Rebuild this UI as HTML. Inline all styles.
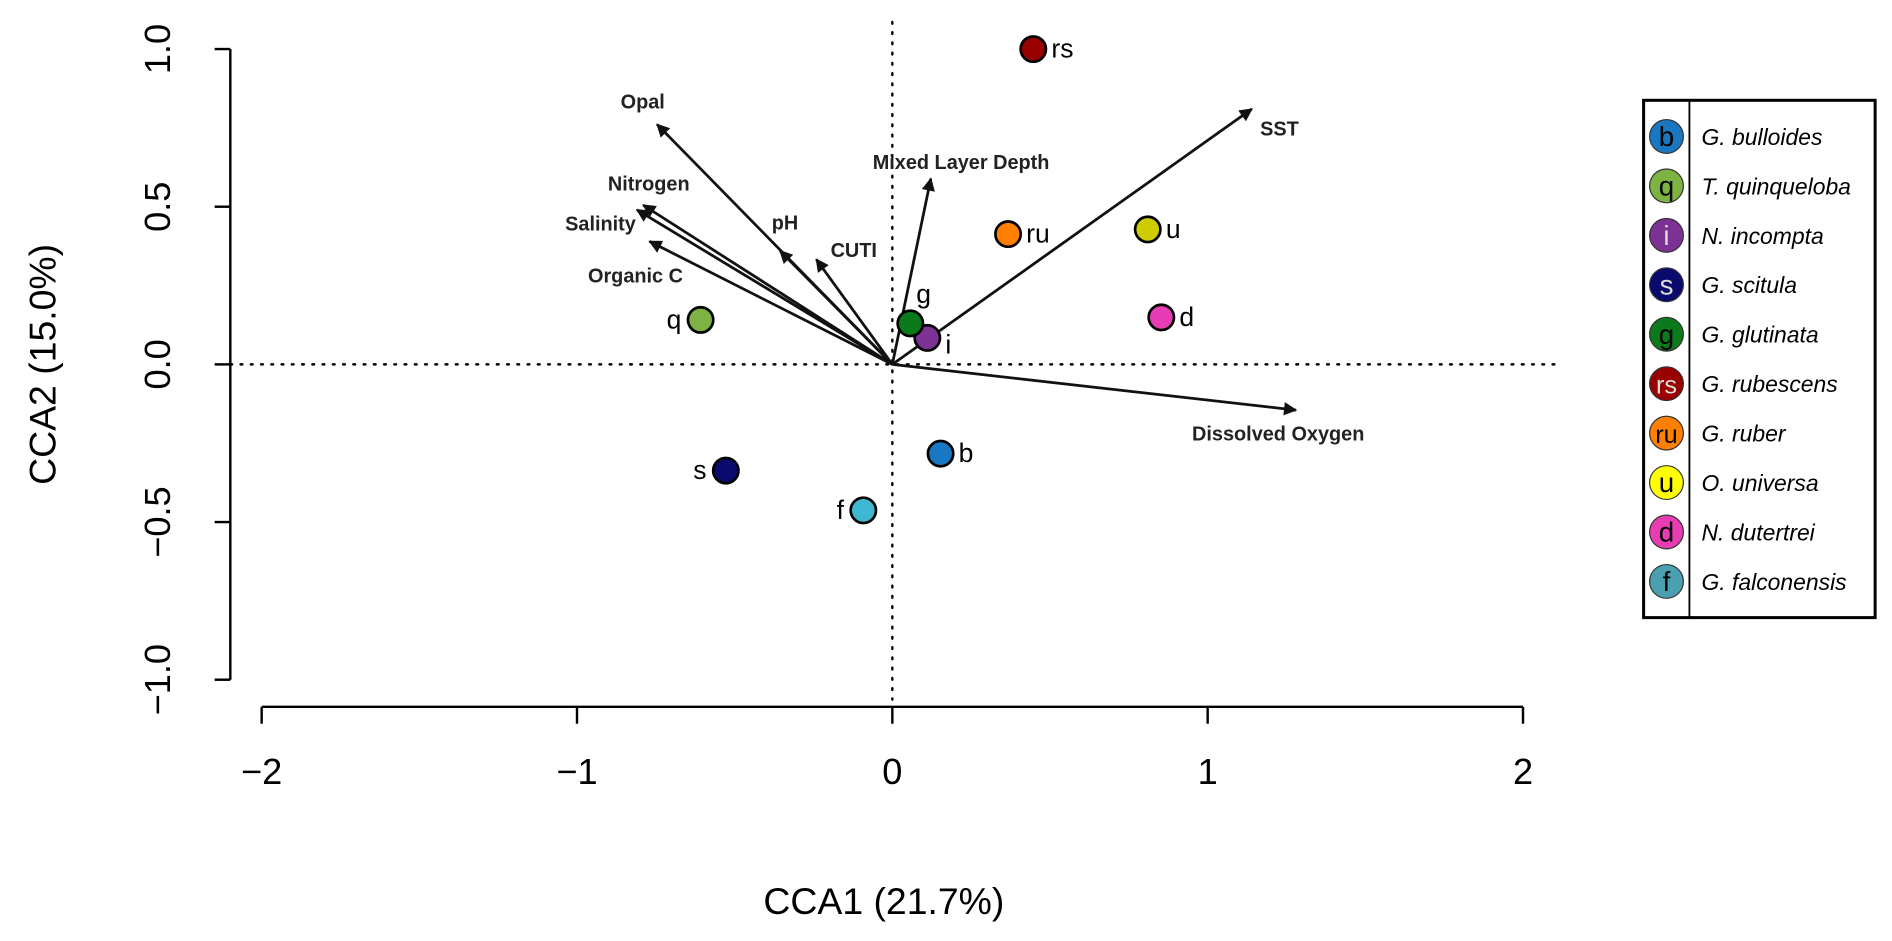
<!DOCTYPE html>
<html><head><meta charset="utf-8"><style>
html,body{margin:0;padding:0;background:#fff;width:1892px;height:941px;overflow:hidden}
svg{display:block;font-family:"Liberation Sans",Arial,sans-serif}
</style></head><body>
<svg id="chart" width="1892" height="941" viewBox="0 0 1569 780" xmlns="http://www.w3.org/2000/svg">
<defs><marker id="ah" viewBox="0 0 10 10" refX="9" refY="5" markerWidth="13" markerHeight="11" markerUnits="userSpaceOnUse" orient="auto"><path d="M0,0 L10,5 L0,10 z" fill="#111"/></marker></defs>
<g id="plot"></g>
</svg>
<script>
const xTicks=[-2,-1,0,1,2];
const yTicks=[-1.0,-0.5,0.0,0.5,1.0];
const yTickLabels=["\u22121.0","\u22120.5","0.0","0.5","1.0"];
const xTickLabels=["\u22122","\u22121","0","1","2"];
const speciesCodes=["b","q","i","s","g","rs","ru","u","d","f"];
const speciesNames=["G. bulloides","T. quinqueloba","N. incompta","G. scitula","G. glutinata","G. rubescens","G. ruber","O. universa","N. dutertrei","G. falconensis"];
const speciesX=[0.153,-0.608,0.111,-0.528,0.057,0.447,0.367,0.81,0.853,-0.092];
const speciesY=[-0.283,0.141,0.084,-0.337,0.13,1.0,0.413,0.428,0.149,-0.463];
const plotColors=["#1a78c2","#7cb342","#7b3294","#0a0a6e","#0b7a1a","#990000","#ff8000","#cccc00","#e83cb4","#3fb7d0"];
const legendColors=["#1a78c2","#7cb342","#7b3294","#0a0a6e","#0b7a1a","#990000","#ff8000","#ffff00","#e83cb4","#4aa0b0"];
const envNames=["Opal","Nitrogen","Salinity","Organic C","pH","CUTI","Mixed Layer Depth","SST","Dissolved Oxygen"];
const envX=[-0.746,-0.79,-0.81,-0.77,-0.356,-0.241,0.122,1.14,1.28];
const envY=[0.761,0.505,0.49,0.39,0.36,0.333,0.589,0.81,-0.145];
const envLabelX=[533,538,498,527,651,708,797,1061,1060];
const envLabelY=[85,153,186,229,185,208,135,107,360];

const NS="http://www.w3.org/2000/svg";
const g=document.getElementById("plot");
const sx=v=>740+v*261.5;
const sy=v=>302-v*261.5;
function el(t,a,txt){const e=document.createElementNS(NS,t);for(const k in a)e.setAttribute(k,a[k]);if(txt!==undefined)e.textContent=txt;g.appendChild(e);return e;}

let e;
e=el("line",{x1:191,y1:sy(1),x2:191,y2:sy(-1),stroke:"#000","stroke-width":2});


yTicks.forEach((v,i)=>{
 e=el("line",{x1:178,y1:sy(v),x2:191,y2:sy(v),stroke:"#000","stroke-width":2});
 
 
 e=el("text",{x:0,y:0,transform:`translate(141,${sy(v)}) rotate(-90)`,"text-anchor":"middle","font-size":30,fill:"#000"},yTickLabels[i]);
 
 
});
e=el("line",{x1:sx(-2),y1:586,x2:sx(2),y2:586,stroke:"#000","stroke-width":2});


xTicks.forEach((v,i)=>{
 e=el("line",{x1:sx(v),y1:586,x2:sx(v),y2:600,stroke:"#000","stroke-width":2});
 
 
 e=el("text",{x:sx(v),y:650,"text-anchor":"middle","font-size":30,fill:"#000"},xTickLabels[i]);
 
 
});
e=el("text",{x:733,y:758,"text-anchor":"middle","font-size":31,fill:"#000"},"CCA1 (21.7%)");


e=el("text",{x:0,y:0,transform:"translate(46,302) rotate(-90)","text-anchor":"middle","font-size":31,fill:"#000"},"CCA2 (15.0%)");


e=el("line",{x1:191,y1:sy(0),x2:1292,y2:sy(0),stroke:"#000","stroke-width":2,"stroke-dasharray":"1.5 7","stroke-linecap":"round"});


e=el("line",{x1:sx(0),y1:18,x2:sx(0),y2:580,stroke:"#000","stroke-width":2,"stroke-dasharray":"1.5 7","stroke-linecap":"round"});



envNames.forEach((n,i)=>{
 e=el("line",{x1:sx(0),y1:sy(0),x2:sx(envX[i]),y2:sy(envY[i]),stroke:"#111","stroke-width":2.3,"marker-end":"url(#ah)"});
 
 
 e=el("text",{x:envLabelX[i],y:envLabelY[i]+5,"text-anchor":"middle","font-size":16.5,"font-weight":"bold",fill:"#222"},n);
 
 
});

speciesCodes.forEach((c,i)=>{
 const x=sx(speciesX[i]),y=sy(speciesY[i]);
 e=el("circle",{cx:x,cy:y,r:10.5,fill:plotColors[i],stroke:"#000","stroke-width":2.2});
 
 
 const left=["q","s","f"].includes(c);
 const up=c==="g";
 e=el("text",{x:up?x+11:(left?x-16:x+15),y:up?y-17:(c==="i"?y+13:y+7),"text-anchor":up?"middle":(left?"end":"start"),"font-size":22,fill:"#000"},c);
 
 
});

e=el("rect",{x:1363,y:83,width:192,height:429,fill:"#fff",stroke:"#000","stroke-width":2.5});


e=el("line",{x1:1401,y1:83,x2:1401,y2:512,stroke:"#000","stroke-width":1.5});


speciesCodes.forEach((c,i)=>{
 const y=113+i*41;
 e=el("circle",{cx:1382,cy:y,r:14,fill:legendColors[i],stroke:"#333","stroke-width":1});
 
 
 const light=["i","s","rs"].includes(c);
 e=el("text",{x:1382,y:y+8,"text-anchor":"middle","font-size":c.length>1?21:23,fill:light?"#ddd":"#000"},c);
 
 
 e=el("text",{x:1411,y:y+7,"font-size":19,"font-style":"italic",fill:"#000"},speciesNames[i]);
 
 
});
</script>
</body></html>
